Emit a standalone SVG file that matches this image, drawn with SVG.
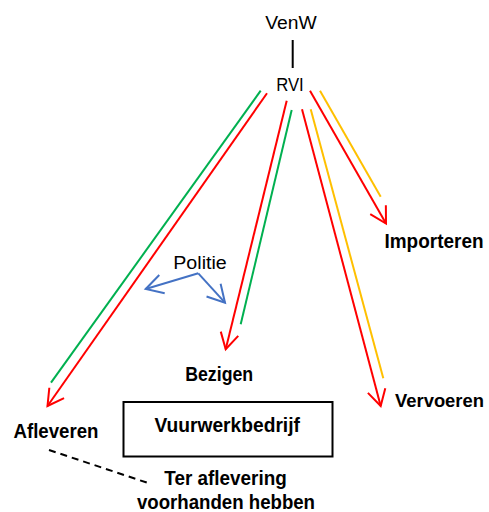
<svg xmlns="http://www.w3.org/2000/svg" width="489" height="512" viewBox="0 0 489 512">
<style>
  .t { font-family: "Liberation Sans", Arial, sans-serif; font-size: 18px; fill: #000; }
  .b { font-family: "Liberation Sans", Arial, sans-serif; font-size: 20px; font-weight: bold; fill: #000; }
  .ln { fill: none; stroke-width: 2; }
  .red { stroke: #FF0000; }
  .green { stroke: #00B050; }
  .yellow { stroke: #FFC000; }
  .blue { stroke: #4472C4; }
</style>
<defs>
  <marker id="ar" markerUnits="userSpaceOnUse" markerWidth="40" markerHeight="40" viewBox="-20 -20 40 40" refX="0" refY="0" orient="auto">
    <path d="M -16 -9 L 0 0 L -16 9" fill="none" stroke="#FF0000" stroke-width="2"/>
  </marker>
  <marker id="ab" markerUnits="userSpaceOnUse" markerWidth="40" markerHeight="40" viewBox="-20 -20 40 40" refX="0" refY="0" orient="auto">
    <path d="M -17 -9.5 L 0 0 L -17 9.5" fill="none" stroke="#4472C4" stroke-width="2"/>
  </marker>
</defs>
<rect width="489" height="512" fill="#fff"/>

<g id="connectors">
  <line x1="292.7" y1="40" x2="292.7" y2="68" stroke="#000" stroke-width="2"/>
  <!-- Afleveren -->
  <line class="ln green" x1="260.7" y1="90.7" x2="51" y2="382.7"/>
  <line class="ln red" x1="267" y1="93.3" x2="47.5" y2="406" marker-end="url(#ar)"/>
  <!-- Bezigen -->
  <line class="ln red" x1="286.7" y1="100.7" x2="225.7" y2="349.3" marker-end="url(#ar)"/>
  <line class="ln green" x1="291.7" y1="110" x2="240.7" y2="324.3"/>
  <!-- Importeren -->
  <line class="ln red" x1="310" y1="90.7" x2="386" y2="223.5" marker-end="url(#ar)"/>
  <line class="ln yellow" x1="320" y1="90.7" x2="380.7" y2="196.7"/>
  <!-- Vervoeren -->
  <line class="ln red" x1="302" y1="109.3" x2="380.7" y2="406" marker-end="url(#ar)"/>
  <line class="ln yellow" x1="310.7" y1="109.3" x2="383.3" y2="378.3"/>
  <!-- Politie -->
  <line class="ln blue" x1="198.3" y1="273.3" x2="145.7" y2="289" marker-end="url(#ab)"/>
  <line class="ln blue" x1="198.3" y1="273.3" x2="225" y2="302.7" marker-end="url(#ab)"/>
  <!-- dashed -->
  <line x1="49" y1="450" x2="149" y2="483.3" stroke="#000" stroke-width="2" stroke-dasharray="7,5"/>
</g>

<g id="VenW"><text class="t" x="291" y="28.5" text-anchor="middle" textLength="51.5" lengthAdjust="spacingAndGlyphs">VenW</text></g>
<g id="RVI"><text class="t" x="290" y="90.5" text-anchor="middle" textLength="27.5" lengthAdjust="spacingAndGlyphs">RVI</text></g>
<g id="Politie"><text class="t" x="200" y="268.5" text-anchor="middle" textLength="53.5" lengthAdjust="spacingAndGlyphs">Politie</text></g>
<g id="Importeren"><text class="b" x="434" y="248" text-anchor="middle" textLength="99" lengthAdjust="spacingAndGlyphs">Importeren</text></g>
<g id="Bezigen"><text class="b" x="219.2" y="381" text-anchor="middle" textLength="68" lengthAdjust="spacingAndGlyphs">Bezigen</text></g>
<g id="Vervoeren"><text class="b" x="439.5" y="407" text-anchor="middle" font-size="18.5" style="font-size:18.5px" textLength="89" lengthAdjust="spacingAndGlyphs">Vervoeren</text></g>
<g id="Afleveren"><text class="b" x="56" y="437.5" text-anchor="middle" textLength="85" lengthAdjust="spacingAndGlyphs">Afleveren</text></g>
<g id="Vuurwerkbedrijf">
  <rect x="123.5" y="402" width="209" height="54.5" fill="none" stroke="#000" stroke-width="2"/>
  <text class="b" x="227.2" y="432" text-anchor="middle" textLength="145.5" lengthAdjust="spacingAndGlyphs">Vuurwerkbedrijf</text>
</g>
<g id="TerAflevering">
  <text class="b" x="225.5" y="485" text-anchor="middle" textLength="122.5" lengthAdjust="spacingAndGlyphs">Ter aflevering</text>
  <text class="b" x="226" y="509" text-anchor="middle" textLength="178" lengthAdjust="spacingAndGlyphs">voorhanden hebben</text>
</g>
</svg>
